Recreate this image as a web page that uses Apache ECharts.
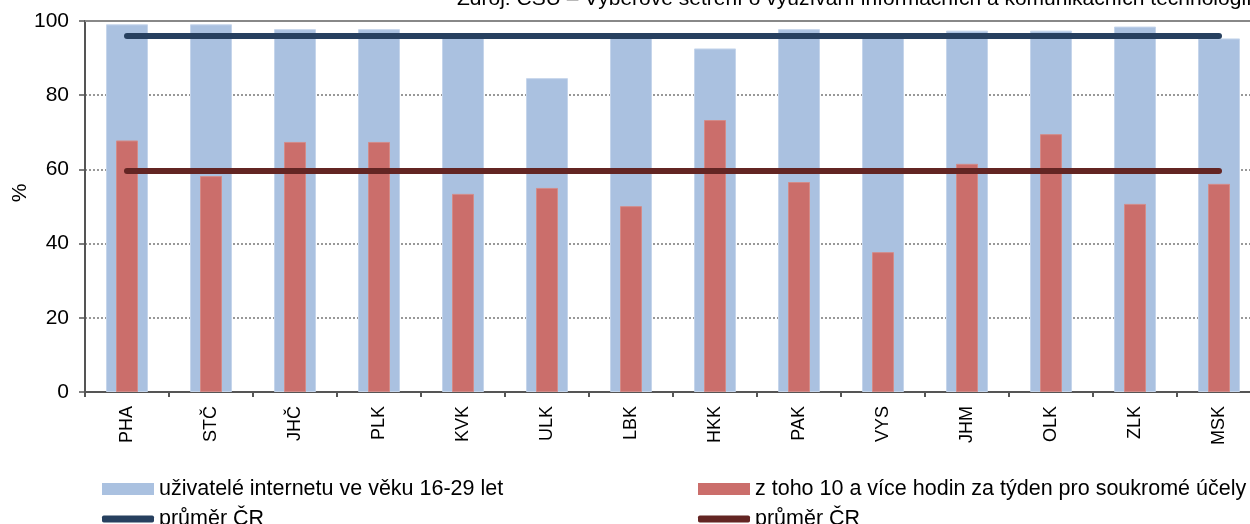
<!DOCTYPE html>
<html><head><meta charset="utf-8">
<script src="https://cdn.jsdelivr.net/npm/echarts@6/dist/echarts.min.js"></script>
<style>html,body{margin:0;padding:0;background:#fff;overflow:hidden;width:1250px;height:524px}#c{width:1266px;height:524px}</style>
</head><body><div id="c"></div>
<script>
const categories = ['PHA','STČ','JHČ','PLK','KVK','ULK','LBK','HKK','PAK','VYS','JHM','OLK','ZLK','MSK'];
const internetUsers = [99.1,99.1,97.8,97.8,96.4,84.6,96.4,92.6,97.8,96.0,97.4,97.4,98.5,95.3];
const tenHoursPlus = [67.8,58.2,67.4,67.4,53.4,55.0,50.1,73.3,56.6,37.7,61.5,69.5,50.7,56.1];
const avgUsers = 96.1;
const avgTenHours = 59.6;
const yTicks = { min: 0, max: 100, interval: 20 };
const yName = '%';
const names = ['uživatelé internetu ve věku 16-29 let','z toho 10 a více hodin za týden pro soukromé účely','průměr ČR#1','průměr ČR#2'];
const sourceText = 'Zdroj: ČSÚ – Výběrové šetření o využívání informačních a komunikačních technologií v domácnostech a mezi jednotlivci';

const FONT = 'Liberation Sans, Arial, sans-serif';
const chart = echarts.init(document.getElementById('c'), null, {renderer:'canvas'});
const lgText = {fontFamily: FONT, fontSize: 21.5, color: '#000'};
const fmt = n => n.split('#')[0];
const avgLine = (val, color) => ({
  silent: true, symbol: ['none','none'], label: {show:false},
  lineStyle: {color: color, width: 6, type: 'solid', cap: 'round'},
  data: [[{coord: [categories[0], val]}, {coord: [categories[categories.length-1], val]}]]
});
chart.setOption({
  animation: false,
  backgroundColor: '#fff',
  graphic: [
    {type:'text', left: 457, top: -11, style: {text: sourceText, font: '21px ' + FONT, fill: '#000'}},
    {type:'text', x: 20, y: 193, rotation: Math.PI/2, style: {text: yName, font: '21px ' + FONT, fill: '#000', align:'center', verticalAlign:'middle'}}
  ],
  grid: {left: 85, top: 21, width: 1176, height: 371, containLabel: false, outerBoundsMode: 'none'},
  legend: [
    {data:[names[0]], left: 97, top: 473, itemWidth: 52, itemHeight: 12, itemGap: 10, icon:'rect', itemStyle:{borderWidth:0}, textStyle: lgText, formatter: fmt},
    {data:[names[1]], left: 693, top: 473, itemWidth: 52, itemHeight: 12, icon:'rect', itemStyle:{borderWidth:0}, textStyle: lgText, formatter: fmt},
    {data:[{name:names[2], icon:'roundRect'}], left: 97, top: 503, itemWidth: 52, itemHeight: 7, textStyle: lgText, formatter: fmt},
    {data:[{name:names[3], icon:'roundRect'}], left: 693, top: 503, itemWidth: 52, itemHeight: 7, textStyle: lgText, formatter: fmt}
  ],
  xAxis: [
    {type:'category', data: categories, boundaryGap: true,
     axisLine:{lineStyle:{color:'#555', width:2}},
     axisTick:{show:true, length:5, lineStyle:{color:'#555', width:2}},
     axisLabel:{rotate:90, margin:14, fontFamily:FONT, fontSize:18, color:'#000', interval:0},
     splitLine:{show:false}},
    {type:'category', data: categories, show:false, boundaryGap: true}
  ],
  yAxis: {type:'value', min: yTicks.min, max: yTicks.max, interval: yTicks.interval,
    axisLine:{show:true, lineStyle:{color:'#555', width:2}},
    axisTick:{show:true, inside:false, length:6, lineStyle:{color:'#555', width:1.5}},
    axisLabel:{margin:16, fontFamily:FONT, fontSize:21, color:'#000'},
    splitLine:{show:true, lineStyle:{color:'#777', type:[2,2], width:1.5}}
  },
  series: [
    {name: names[0], type:'bar', xAxisIndex:0, data: internetUsers, barWidth: 42,
     itemStyle:{color:'#AAC1E0', borderColor:'#C5D5EB', borderWidth:1}, z:2,
     markLine: {silent:true, symbol:['none','none'], label:{show:false},
       lineStyle:{color:'#888', width:2, type:'solid'}, data:[{yAxis: yTicks.max}]}},
    {name: names[1], type:'bar', xAxisIndex:1, data: tenHoursPlus, barWidth: 22,
     itemStyle:{color:'#CB6E6B', borderColor:'#D38B88', borderWidth:1}, z:3},
    {name: names[2], type:'line', xAxisIndex:0, data: [], color:'#27405F', z:5, markLine: avgLine(avgUsers, '#27405F')},
    {name: names[3], type:'line', xAxisIndex:0, data: [], color:'#632523', z:5, markLine: avgLine(avgTenHours, '#632523')}
  ]
});
</script></body></html>
